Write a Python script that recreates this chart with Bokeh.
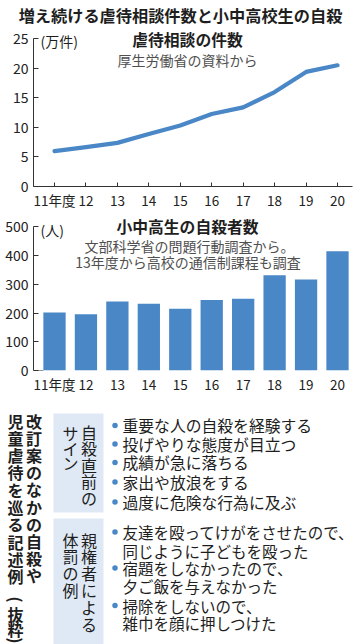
import math
from bokeh.plotting import figure
from bokeh.layouts import column
from bokeh.models import Range1d, FixedTicker
from bokeh.core.properties import value
from bokeh.embed import file_html
from bokeh.resources import INLINE

# ---------------- data ----------------
years = [11, 12, 13, 14, 15, 16, 17, 18, 19, 20]
year_labels = ["11年度", "12", "13", "14", "15", "16", "17", "18", "19", "20"]
abuse_cases = [5.99, 6.67, 7.38, 8.89, 10.33, 12.26, 13.38, 15.98, 19.38, 20.50]  # 万件
suicides = [202, 196, 240, 232, 215, 245, 250, 332, 317, 415]  # 人
abuse_ticks = [0, 5, 10, 15, 20, 25]
suicide_ticks = [0, 100, 200, 300, 400, 500]

main_title = "増え続ける虐待相談件数と小中高校生の自殺"
line_title = "虐待相談の件数"
line_source = "厚生労働省の資料から"
line_unit = "(万件)"
bar_title = "小中高生の自殺者数"
bar_source = ["文部科学省の問題行動調査から。", "13年度から高校の通信制課程も調査"]
bar_unit = "(人)"

side_col_right = "改訂案のなかの自殺や"
side_col_left = "児童虐待を巡る記述例"
side_col_left_tail = ["(", "抜", "粋", ")"]
box1_right = "自殺直前の"
box1_left = "サイン"
box2_right = "親権者による"
box2_left = "体罰の例"
sign_items = ["重要な人の自殺を経験する", "投げやりな態度が目立つ", "成績が急に落ちる",
              "家出や放浪をする", "過度に危険な行為に及ぶ"]
punish_items = [["友達を殴ってけがをさせたので、", "同じように子どもを殴った"],
                ["宿題をしなかったので、", "夕ご飯を与えなかった"],
                ["掃除をしないので、", "雑巾を顔に押しつけた"]]

# ---------------- style ----------------
FONT = "Noto Sans CJK JP"
BLUE = "#4a87c7"
BOX = "#dfe9f5"
INK = "#1e1e1e"
GREY = "#505050"
AX = "#333333"
W = 360


def plain_fig(h):
    p = figure(width=W, height=h, x_range=Range1d(0, W), y_range=Range1d(h, 0),
               x_axis_type=None, y_axis_type=None, toolbar_location=None, title=None,
               output_backend="svg", frame_align=False, min_border=0,
               min_border_left=0, min_border_right=0, min_border_top=0, min_border_bottom=0)
    p.outline_line_color = None
    p.grid.visible = False
    return p


# ---------------- title ----------------
HT = 28
pt = plain_fig(HT)
pt.text(x=[180], y=[14.5], text=[main_title], text_font=value(FONT),
        text_font_size="16.2px", text_font_style="bold", text_color=INK,
        text_align="center", text_baseline="middle")

# ---------------- shared x mapping ----------------
LA, RA = 33, 8
tick_first, tick_last = 54.0, 337.0
UX = (tick_last - tick_first) / (years[-1] - years[0])
X0 = years[0] - (tick_first - LA) / UX
X1 = X0 + (W - LA - RA) / UX


def xd(px):
    return X0 + (px - LA) / UX


def style_axes(p):
    p.grid.visible = False
    p.outline_line_color = None
    for ax in (p.xaxis[0], p.yaxis[0]):
        ax.major_label_text_font = FONT
        ax.major_label_text_color = "#222222"
        ax.axis_line_color = AX
        ax.major_tick_line_color = AX
        ax.minor_tick_line_color = None
        ax.major_tick_out = 0
    p.xaxis.major_label_text_font_size = "13.5px"
    p.yaxis.major_label_text_font_size = "14px"
    p.xaxis.ticker = FixedTicker(ticks=years)
    p.xaxis.major_label_overrides = {y: l for y, l in zip(years, year_labels)}
    p.xaxis.major_label_standoff = 3
    p.yaxis.major_label_standoff = 5
    p.yaxis.major_tick_in = 5


def chart_fig(h, b, ytop):
    return figure(width=W, height=h, x_range=Range1d(X0, X1), y_range=Range1d(0, ytop),
                  toolbar_location=None, title=None, output_backend="svg", frame_align=False,
                  min_border_left=LA, min_border_right=RA, min_border_top=0,
                  min_border_bottom=b)


# ---------------- line chart (page y 28..212, zero at 191) ----------------
TOP_A, ZERO_A, HA = 28, 191, 184
UYA = 6.1
YA1 = (ZERO_A - TOP_A) / UYA
pa = chart_fig(HA, TOP_A + HA - ZERO_A, YA1)
style_axes(pa)
pa.xaxis.major_tick_in = 4
pa.yaxis.ticker = FixedTicker(ticks=abuse_ticks)
pa.yaxis.bounds = (abuse_ticks[0], abuse_ticks[-1])
pa.line(years, abuse_cases, line_color=BLUE, line_width=4.2, line_join="round", line_cap="round")


def ya(py):
    return (ZERO_A - py) / UYA


pa.text(x=[xd(187)], y=[ya(39.5)], text=[line_title], text_font=value(FONT),
        text_font_size="15.8px", text_font_style="bold", text_color=INK,
        text_align="center", text_baseline="middle")
pa.text(x=[xd(187)], y=[ya(60.5)], text=[line_source], text_font=value(FONT),
        text_font_size="14px", text_color=GREY, text_align="center", text_baseline="middle")
pa.text(x=[xd(40)], y=[ya(41)], text=[line_unit], text_font=value(FONT),
        text_font_size="14px", text_color=INK, text_align="left", text_baseline="middle")

# ---------------- bar chart (page y 212..396, zero at 377) ----------------
TOP_B, ZERO_B, HB = 212, 377, 184
UYB = 0.3
YB1 = (ZERO_B - TOP_B) / UYB
pb = chart_fig(HB, TOP_B + HB - ZERO_B, YB1)
style_axes(pb)
pb.xaxis.axis_line_color = None
pb.xaxis.major_tick_line_color = None
pb.yaxis.ticker = FixedTicker(ticks=suicide_ticks)
pb.yaxis.bounds = (suicide_ticks[0], suicide_ticks[-1])
BW = 22.3 / UX
pb.vbar(x=years, top=suicides, width=BW, fill_color=BLUE, line_color=None)
pb.segment(x0=[X0], x1=[years[0] - BW / 2], y0=[0], y1=[0], line_color=AX, line_width=1)


def yb(py):
    return (ZERO_B - py) / UYB


pb.text(x=[xd(187)], y=[yb(227)], text=[bar_title], text_font=value(FONT),
        text_font_size="15.8px", text_font_style="bold", text_color=INK,
        text_align="center", text_baseline="middle")
pb.text(x=[xd(189), xd(187.5)], y=[yb(247.5), yb(264)], text=bar_source, text_font=value(FONT),
        text_font_size="14px", text_color=GREY, text_align="center", text_baseline="middle")
pb.text(x=[xd(40)], y=[yb(230)], text=[bar_unit], text_font=value(FONT),
        text_font_size="14px", text_color=INK, text_align="left", text_baseline="middle")

# ---------------- bottom text block (page y 396..644) ----------------
TOP_C = 396
HC = 644 - TOP_C
pc = plain_fig(HC)


def cy(py):
    return py - TOP_C


# light blue boxes
pc.quad(left=[53, 53], right=[103, 103], top=[cy(413), cy(518)],
        bottom=[cy(512), cy(650)], fill_color=BOX, line_color=None)


def vertical(p, chars, px, y_first, pitch, size, bold):
    chars = list(chars)
    p.text(x=[px] * len(chars), y=[cy(y_first + i * pitch) for i in range(len(chars))],
           text=chars, text_font=value(FONT), text_font_size=size,
           text_font_style="bold" if bold else "normal", text_color=INK,
           text_align="center", text_baseline="middle")


vertical(pc, side_col_right, 33.5, 420, 17.2, "16px", True)
vertical(pc, side_col_left, 15, 420, 17.3, "16px", True)
tail_y = [599, 613.5, 628.5, 640]
pc.text(x=[15] * 4, y=[cy(v) for v in tail_y], text=side_col_left_tail,
        angle=[-math.pi / 2, 0, 0, -math.pi / 2], text_font=value(FONT), text_font_size="16px",
        text_font_style="bold", text_color=INK, text_align="center", text_baseline="middle")

vertical(pc, box1_right, 88.5, 431, 16.5, "16px", False)
vertical(pc, box1_left, 70, 432, 15.3, "16px", False)
vertical(pc, box2_right, 88.5, 539, 16.8, "16px", False)
vertical(pc, box2_left, 70, 539, 16.7, "16px", False)

# bullets
sign_y = [425, 443.5, 462, 481.5, 501.5]
pc.scatter(x=[114.5] * len(sign_items), y=[cy(v) for v in sign_y], size=5.5,
           marker="circle", fill_color=BLUE, line_color=None)
pc.text(x=[122] * len(sign_items), y=[cy(v) for v in sign_y], text=sign_items,
        text_font=value(FONT), text_font_size="15.8px", text_color=INK,
        text_align="left", text_baseline="middle")

item_y = [[531.5, 550], [567.5, 585], [605, 622.5]]
lines, lys, dys = [], [], []
for item, ys in zip(punish_items, item_y):
    dys.append(cy(ys[0]))
    for t, v in zip(item, ys):
        lines.append(t)
        lys.append(cy(v))
pc.scatter(x=[114.5] * len(dys), y=dys, size=5.5, marker="circle",
           fill_color=BLUE, line_color=None)
pc.text(x=[122] * len(lines), y=lys, text=lines, text_font=value(FONT),
        text_font_size="15.5px", text_color=INK, text_align="left", text_baseline="middle")

layout = column(pt, pa, pb, pc, spacing=0)
open("out.html", "w").write(file_html(layout, INLINE))
